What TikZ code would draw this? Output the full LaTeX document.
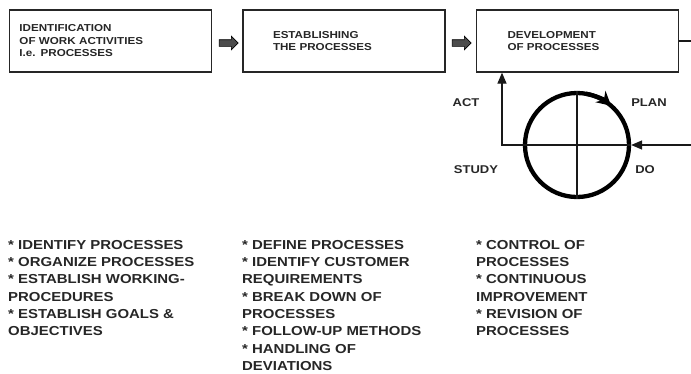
\documentclass[tikz,border=0pt]{standalone}
\usepackage{fontspec}
\setmainfont{Liberation Sans}[FakeStretch=1.15]
\usetikzlibrary{shapes.arrows,arrows.meta}
\newcommand{\boxfont}{\fontsize{10.1}{12.5}\selectfont\bfseries}
\newcommand{\lblfont}{\fontsize{11.3}{13}\selectfont\bfseries}
\newcommand{\bulfont}{\fontsize{13}{17.3}\selectfont\bfseries}
\begin{document}
\begin{tikzpicture}[x=1pt,y=-1pt,
  box/.style={draw=black!85,line width=1.3pt,minimum width=202pt,minimum height=62pt,align=left,font=\boxfont,text=black!85},
  blk/.style={single arrow,draw=black,fill=black!70,line width=0.6pt,minimum width=13pt,single arrow head extend=3.5pt,minimum height=19pt,inner xsep=0pt,inner ysep=3pt},
  lbl/.style={font=\lblfont,inner sep=0pt,text=black!85},
  bul/.style={font=\bulfont,align=left,anchor=north west,inner sep=0pt,text=black!85},
  conn/.style={line width=1.3pt,draw=black!90}
]
\useasboundingbox (0,0) rectangle (691,373);
% boxes
\node[box,text width=182pt,inner xsep=10pt] (b1) at (110.5,41) {IDENTIFICATION\\OF WORK ACTIVITIES\\I.e. PROCESSES};
\node[box,text width=142pt,inner xsep=30pt] (b2) at (344,41) {ESTABLISHING\\THE PROCESSES};
\node[box,text width=140pt,inner xsep=31pt] (b3) at (577.5,41) {DEVELOPMENT\\OF PROCESSES};
% block arrows
\node[blk] (a1) at (227,43) {};
\node[blk] (a2) at (460,43) {};
% cycle
\node[draw=black,circle,line width=4.3pt,minimum size=104pt,inner sep=0pt] (cyc) at (577,145) {};
\draw[conn] (cyc.north) -- (cyc.south);
\coordinate (corner) at (502,145);
\draw[conn,-{Triangle[length=11pt,width=9pt]}] (cyc.east) -- (corner) -- (corner |- b3.south);
\coordinate (rin) at (691,145);
\draw[conn,-{Triangle[length=11pt,width=9pt]}] (rin) -- (cyc.east);
\coordinate (rout) at (691,41);
\draw[conn] (b3.east) -- (rout);
\draw[line width=4.3pt,-{Stealth[length=14pt,width=15pt]}] (cyc.center) ++(-80:52) arc (-80:-49:52);
% labels
\node[lbl] (act) at (466,103) {ACT};
\node[lbl] (plan) at (649,103) {PLAN};
\node[lbl] (study) at (476,170) {STUDY};
\node[lbl] (do) at (645,170) {DO};
% bullet lists
\node[bul] (l1) at (8,240) {* IDENTIFY PROCESSES\\* ORGANIZE PROCESSES\\* ESTABLISH WORKING-\\PROCEDURES\\* ESTABLISH GOALS \&\\OBJECTIVES};
\node[bul] (l2) at (242,240) {* DEFINE PROCESSES\\* IDENTIFY CUSTOMER\\REQUIREMENTS\\* BREAK DOWN OF\\PROCESSES\\* FOLLOW-UP METHODS\\* HANDLING OF\\DEVIATIONS};
\node[bul] (l3) at (476,240) {* CONTROL OF\\PROCESSES\\* CONTINUOUS\\IMPROVEMENT\\* REVISION OF\\PROCESSES};
\end{tikzpicture}
\end{document}
